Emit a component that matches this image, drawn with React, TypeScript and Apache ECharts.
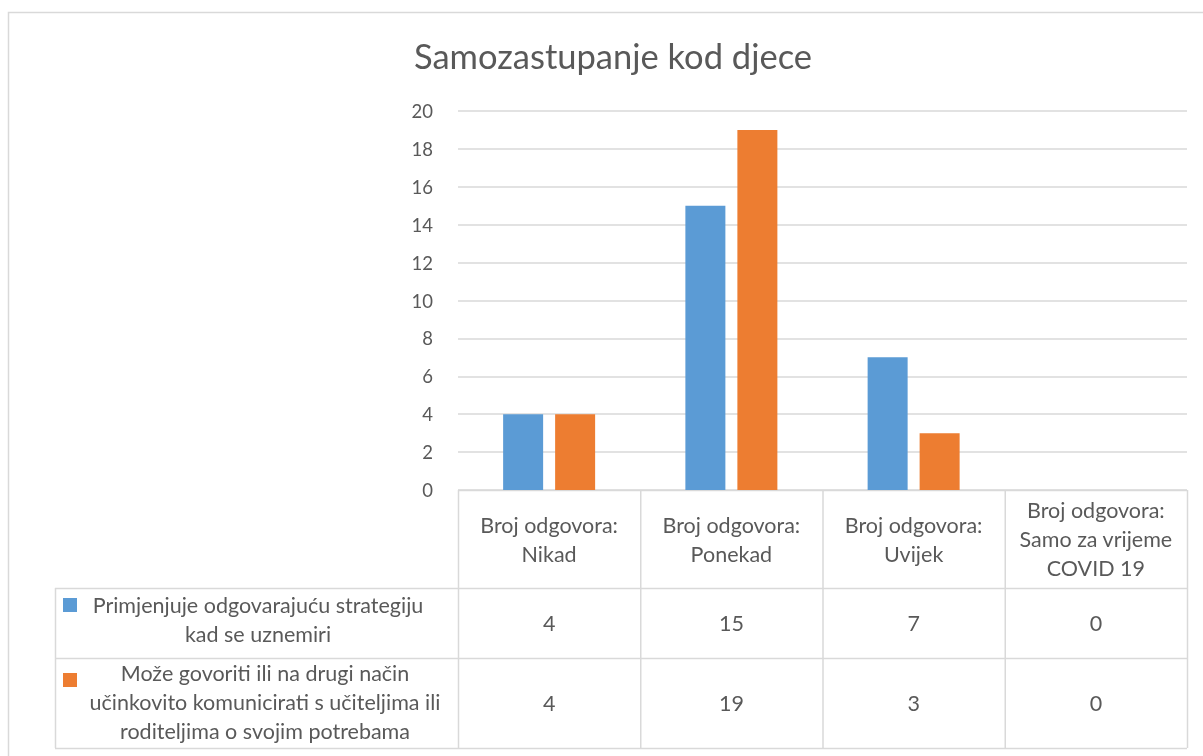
import React, { useEffect, useRef } from "react";
import * as echarts from "echarts";

const chartTitle = "Samozastupanje kod djece";
const categories = [
  "Broj odgovora:\nNikad",
  "Broj odgovora:\nPonekad",
  "Broj odgovora:\nUvijek",
  "Broj odgovora:\nSamo za vrijeme\nCOVID 19",
];
const seriesNames = [
  "Primjenjuje odgovarajuću strategiju kad se uznemiri",
  "Može govoriti ili na drugi način učinkovito komunicirati s učiteljima ili roditeljima o svojim potrebama",
];
const seriesLegendLines = [
  ["Primjenjuje odgovarajuću strategiju", "kad se uznemiri"],
  [
    "Može govoriti ili na drugi način",
    "učinkovito komunicirati s učiteljima ili",
    "roditeljima o svojim potrebama",
  ],
];
const strategyValues = [4, 15, 7, 0];
const communicationValues = [4, 19, 3, 0];
const seriesColors = ["#5B9BD5", "#ED7D31"];
const yMin = 0;
const yMax = 20;
const yInterval = 2;

const FONT = "Lato, 'Liberation Sans', sans-serif";
const TEXT = "#595959";
const LINE = "#d9d9d9";
const TABLE_FS = 21.5;

export default function App() {
  const ref = useRef<HTMLDivElement>(null);
  useEffect(() => {
    if (!ref.current) return;
    const chart = echarts.init(ref.current, undefined, { renderer: "svg" });
    const W = 1203;
    const H = 756;
    const plotLeft = 458;
    const plotRight = 1187;
    const plotTop = 111;
    const plotBottom = 490;
    const headerBottom = 588;
    const row1Bottom = 658;
    const row2Bottom = 748;
    const tableLeft = 55;
    const colW = (plotRight - plotLeft) / categories.length;
    const legendCenters = [258, 265];
    const textCenters = [619, 702];
    const squareCenters = [605, 680];
    const lineH = 29;

    const values = [strategyValues, communicationValues];
    const graphics: any[] = [];
    graphics.push({
      type: "rect",
      shape: { x: 8.5, y: 12.5, width: W, height: H },
      style: { fill: "none", stroke: LINE, lineWidth: 1.5 },
      silent: true,
    });
    const hline = (x1: number, x2: number, y: number) =>
      graphics.push({
        type: "line",
        shape: { x1, y1: y + 0.5, x2, y2: y + 0.5 },
        style: { stroke: LINE, lineWidth: 1.5 },
        silent: true,
      });
    const vline = (x: number, y1: number, y2: number) =>
      graphics.push({
        type: "line",
        shape: { x1: x + 0.5, y1, x2: x + 0.5, y2 },
        style: { stroke: LINE, lineWidth: 1.5 },
        silent: true,
      });
    hline(plotLeft, plotRight, plotBottom);
    hline(tableLeft, plotRight, headerBottom);
    hline(tableLeft, plotRight, row1Bottom);
    hline(tableLeft, plotRight, row2Bottom);
    vline(tableLeft, headerBottom, row2Bottom);
    for (let i = 0; i <= categories.length; i++) {
      vline(plotLeft + i * colW, plotBottom, row2Bottom);
    }
    const rowTops = [headerBottom, row1Bottom];
    const rowBottoms = [row1Bottom, row2Bottom];
    values.forEach((vals, s) => {
      const cy = (rowTops[s] + rowBottoms[s]) / 2;
      graphics.push({
        type: "rect",
        shape: { x: 63, y: squareCenters[s] - 7, width: 14, height: 14 },
        style: { fill: seriesColors[s] },
        silent: true,
      });
      graphics.push({
        type: "text",
        x: legendCenters[s],
        y: textCenters[s],
        style: {
          text: seriesLegendLines[s].join("\n"),
          fill: TEXT,
          font: `${TABLE_FS}px ${FONT}`,
          lineHeight: lineH,
          align: "center",
          verticalAlign: "middle",
        },
        silent: true,
      });
      vals.forEach((v, i) => {
        graphics.push({
          type: "text",
          x: plotLeft + (i + 0.5) * colW,
          y: cy,
          style: {
            text: String(v),
            fill: TEXT,
            font: `${TABLE_FS}px ${FONT}`,
            align: "center",
            verticalAlign: "middle",
          },
          silent: true,
        });
      });
    });

    chart.setOption({
      animation: false,
      title: {
        text: chartTitle,
        left: 409,
        top: 33,
        textStyle: {
          fontFamily: FONT,
          fontSize: 34.5,
          fontWeight: "normal",
          color: TEXT,
        },
      },
      grid: {
        left: plotLeft,
        right: W - plotRight,
        top: plotTop,
        bottom: H - plotBottom,
        containLabel: false,
      },
      xAxis: {
        type: "category",
        data: categories,
        axisLine: { show: false },
        axisTick: { show: false },
        axisLabel: {
          interval: 0,
          margin: (headerBottom - plotBottom) / 2,
          verticalAlign: "middle",
          align: "center",
          color: TEXT,
          fontFamily: FONT,
          fontSize: TABLE_FS,
          lineHeight: lineH,
        },
      },
      yAxis: {
        type: "value",
        min: yMin,
        max: yMax,
        interval: yInterval,
        axisLine: { show: false },
        axisTick: { show: false },
        axisLabel: {
          margin: 25,
          color: TEXT,
          fontFamily: FONT,
          fontSize: 18.5,
        },
        splitLine: { lineStyle: { color: LINE, width: 1.5 } },
      },
      series: [
        {
          name: seriesNames[0],
          type: "bar",
          data: strategyValues,
          barWidth: 40,
          barGap: "30%",
          itemStyle: { color: seriesColors[0] },
        },
        {
          name: seriesNames[1],
          type: "bar",
          data: communicationValues,
          barWidth: 40,
          barGap: "30%",
          itemStyle: { color: seriesColors[1] },
        },
      ],
      graphic: graphics,
    });
    return () => chart.dispose();
  }, []);
  return (
    <div
      ref={ref}
      style={{ position: "fixed", left: 0, top: 0, width: 1203, height: 756 }}
    />
  );
}
